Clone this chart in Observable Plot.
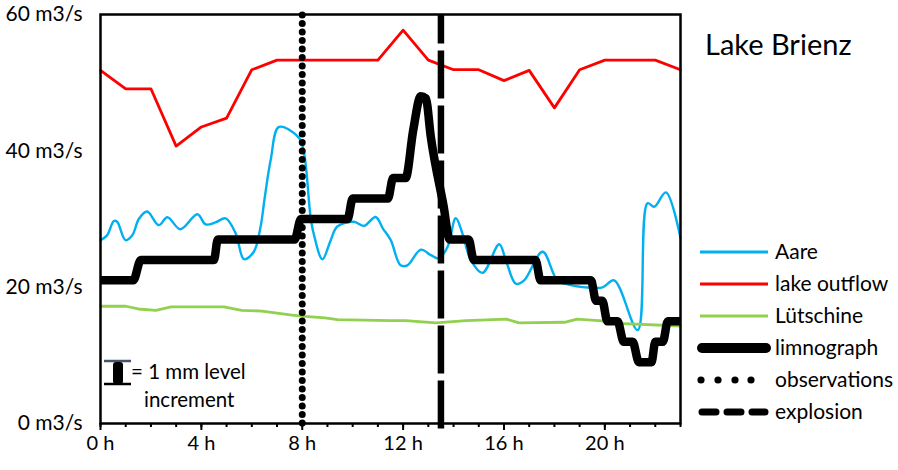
<!DOCTYPE html>
<html>
<head>
<meta charset="utf-8">
<script src="https://cdn.jsdelivr.net/npm/d3@7"></script>
<script src="https://cdn.jsdelivr.net/npm/@observablehq/plot@0.6"></script>
<style>
  html, body { margin: 0; padding: 0; background: #fff; }
  #chart { width: 898px; height: 470px; }
  svg { font-family: Lato, "Open Sans", sans-serif; }
</style>
</head>
<body>
<div id="chart"></div>
<script>
// ---- data (hours, m3/s) ----
const outflowHours = [0,1,2,3,4,5,6,7,8,9,10,11,12,13,14,15,16,17,18,19,20,21,22,23];
const outflowFlow  = [51.8,49.1,49.1,40.7,43.5,44.8,51.9,53.3,53.3,53.3,53.3,53.3,57.7,53.3,51.9,51.9,50.3,51.8,46.3,51.9,53.3,53.3,53.3,51.9];

const aareHours = [0,0.26,0.53,0.66,0.99,1.26,1.52,1.85,2.31,2.65,3.17,3.84,4.17,4.56,4.96,5.36,5.69,6.08,6.35,6.5,6.75,7.08,7.87,8.07,8.33,8.45,8.8,9.13,9.39,10.05,10.45,10.91,11.2,11.51,11.9,12.17,12.7,13.1,13.42,13.76,14.09,14.35,14.68,15.15,15.81,16.07,16.47,16.8,17.53,18.12,18.65,19.31,19.91,20.37,21.3,21.69,21.96,22.42,23];
const aareFlow  = [26.9,27.6,29.7,29.6,26.9,27.6,30.0,31.1,29.1,30.25,28.5,30.7,29.2,29.5,30.1,27.9,24.1,25.2,28.9,32.8,38.7,43.5,41.9,39.7,30.3,27.9,24.1,26.9,28.9,29.6,29.0,30.3,28.6,26.9,23.2,23.2,25.5,24.7,24.2,25.9,30.1,27.9,24.0,22.1,26.3,24.0,20.5,21.0,25.2,21.0,20.3,19.96,19.96,21.0,13.7,32.3,31.8,33.9,27.2];

const lutHours = [0,1,1.5,2.2,2.8,4.9,5.6,6.4,7.6,8.1,8.9,9.4,11.5,12.1,13.3,14.5,16.1,16.6,18.4,18.9,19.9,20.5,23];
const lutFlow  = [17.2,17.2,16.8,16.6,17.1,17.1,16.6,16.5,15.9,15.7,15.5,15.25,15.1,15.1,14.75,15.1,15.3,14.75,14.85,15.3,15.05,14.7,14.3];

const limnoHours = [0,1.3,1.6,4.5,4.65,7.7,7.95,9.8,10.0,11.4,11.6,12.1,12.4,12.7,12.9,13.1,13.6,13.85,14.6,14.8,17.25,17.45,19.45,19.65,19.9,20.1,20.5,20.75,21.1,21.35,21.85,22.0,22.3,22.5,23];
const limnoLevel = [21,21,24,24,27,27,30,30,33,33,36,36,43,48,47.7,42,32,27,27,24,24,21,21,18,18,15,15,12,12,9,9,12,12,15,15];

const observationHour = 8;
const explosionHour = 13.5;

const xTicks = [0,4,8,12,16,20];
const xMinorTicks = d3.range(0, 24);
const yTicks = [0,20,40,60];

const legendLabels = ["Aare","lake outflow","Lütschine","limnograph","observations","explosion"];
const titleText = "Lake Brienz";
const noteLines = ["= 1 mm level", "increment"];

const colors = {aare: "#00b0f0", outflow: "#ff0000", lut: "#92d050", black: "#000"};

const toRows = (hs, vs) => hs.map((h, i) => ({h, v: vs[i]}));

const plot = Plot.plot({
  width: 898,
  height: 470,
  marginLeft: 100,
  marginRight: 218,
  marginTop: 14,
  marginBottom: 47,
  style: {fontSize: "20px", fontFamily: "Lato, 'Open Sans', sans-serif", color: "#000", background: "#fff"},
  x: {domain: [0, 23], label: null},
  y: {domain: [0, 60], label: null},
  marks: [
    Plot.lineY(toRows(outflowHours, outflowFlow), {x: "h", y: "v", stroke: colors.outflow, strokeWidth: 2.8}),
    Plot.lineY(toRows(aareHours, aareFlow), {x: "h", y: "v", stroke: colors.aare, strokeWidth: 2.4, curve: "catmull-rom"}),
    Plot.lineY(toRows(lutHours, lutFlow), {x: "h", y: "v", stroke: colors.lut, strokeWidth: 2.8}),
    Plot.lineY(toRows(limnoHours, limnoLevel), {x: "h", y: "v", stroke: colors.black, strokeWidth: 8.5, strokeLinejoin: "round", strokeLinecap: "butt", curve: "monotone-x"}),
    Plot.ruleX([observationHour], {stroke: "#000", strokeWidth: 7, strokeDasharray: "0 8.5", strokeLinecap: "round", y1: 0, y2: 60}),
    Plot.ruleX([explosionHour], {stroke: "#000", strokeWidth: 6.5, strokeDasharray: "48 7", y1: -0.8, y2: 60}),
    Plot.frame({stroke: "#000", strokeWidth: 2.5}),
    Plot.axisX({ticks: xMinorTicks, tickSize: 4, tickFormat: () => "", strokeWidth: 2, label: null}),
    Plot.axisX({ticks: xTicks, tickSize: 7, tickPadding: 5, tickFormat: d => d + " h", strokeWidth: 2, label: null}),
    Plot.axisY({ticks: yTicks, tickSize: 0, tickPadding: 18, tickFormat: d => d + " m3/s", label: null, fontSize: 21})
  ]
});

document.getElementById("chart").appendChild(plot);

const svg = d3.select(plot);
const sx = plot.scale("x"), sy = plot.scale("y");

// title
svg.append("text").attr("x", 705).attr("y", 55).attr("text-anchor", "start")
  .attr("font-size", 29).attr("fill", "#000").text(titleText);

// legend
const lg = svg.append("g").attr("font-size", 21).attr("fill", "#000").attr("text-anchor", "start");
const rowY = [252, 284, 316, 348, 380, 412];
const legendStyles = [
  {stroke: colors.aare, w: 3},
  {stroke: colors.outflow, w: 3},
  {stroke: colors.lut, w: 3},
  {stroke: "#000", w: 10, cap: "round"},
  null,
  {stroke: "#000", w: 7, cap: "round", dash: "14 11"}
];
legendLabels.forEach((lab, i) => {
  const s = legendStyles[i];
  if (s) {
    const x1 = s.cap ? 702 : 700, x2 = i === 5 ? 765 : (s.cap ? 766 : 768);
    lg.append("line").attr("x1", x1).attr("x2", x2)
      .attr("y1", rowY[i]).attr("y2", rowY[i])
      .attr("stroke", s.stroke).attr("stroke-width", s.w)
      .attr("stroke-linecap", s.cap || "butt")
      .attr("stroke-dasharray", s.dash || null);
  } else {
    [701, 718, 735, 751].forEach(cx => lg.append("circle").attr("cx", cx).attr("cy", rowY[i]).attr("r", 3.6).attr("fill", "#000"));
  }
  lg.append("text").attr("x", 775).attr("y", rowY[i] + 7).text(lab);
});

// 1 mm annotation
const ax = sx.apply(0) + 18;
const ann = svg.append("g").attr("text-anchor", "start");
ann.append("line").attr("x1", ax - 14).attr("x2", ax + 13).attr("y1", 361).attr("y2", 361)
  .attr("stroke", "#44546a").attr("stroke-width", 2.5);
ann.append("rect").attr("x", ax - 5).attr("y", 362).attr("width", 10).attr("height", 22).attr("rx", 3).attr("fill", "#000");
ann.append("line").attr("x1", ax - 14).attr("x2", ax + 13).attr("y1", 384).attr("y2", 384)
  .attr("stroke", "#000").attr("stroke-width", 2.5);
ann.append("text").attr("x", ax + 13).attr("y", 379).attr("font-size", 20.5).attr("fill", "#000").text(noteLines[0]);
ann.append("text").attr("x", ax + 26).attr("y", 407).attr("font-size", 20.5).attr("fill", "#000").text(noteLines[1]);
</script>
</body>
</html>
